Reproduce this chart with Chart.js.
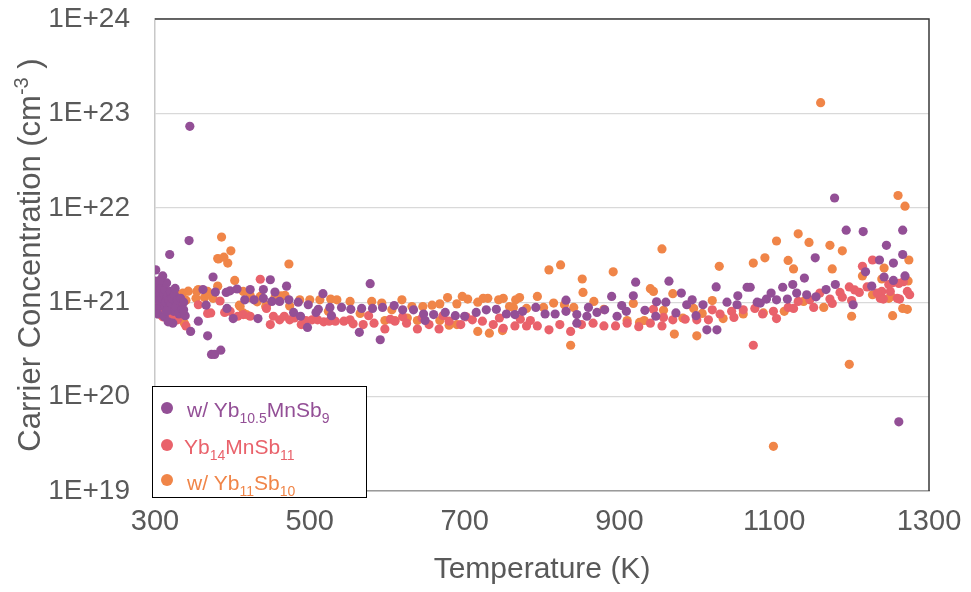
<!DOCTYPE html>
<html>
<head>
<meta charset="utf-8">
<script src="https://cdn.jsdelivr.net/npm/chart.js@4"></script>
<style>
  html, body { margin: 0; padding: 0; background: #fff; }
  #wrap { width: 971px; height: 592px; }
</style>
</head>
<body>
<div id="wrap"><canvas id="chart" width="971" height="592"></canvas></div>
<script>
// [temperature K, carrier concentration cm^-3]
const purplePts = [
  [301,2.2e21],[310,1.9e21],[300,1.67e21],[319,3.2e21],[344,4.5e21],[345,7.3e22],[375,1.85e21],
  [302,1.5e21],[303,1.3e21],[304,1.15e21],[305,1.05e21],[306,0.95e21],[307,1.25e21],[308,1.4e21],[309,1.1e21],
  [311,0.9e21],[312,1.2e21],[313,1.35e21],[314,1.0e21],[315,1.6e21],[316,1.15e21],[317,0.85e21],[318,1.05e21],
  [320,1.3e21],[321,0.95e21],[322,1.1e21],[324,0.8e21],[325,1.2e21],[326,1.4e21],[327,0.9e21],[329,1.05e21],
  [331,0.75e21],[333,1.1e21],[335,0.85e21],[337,1.0e21],[339,0.72e21],[302,0.85e21],[304,0.75e21],[306,1.7e21],
  [312,0.7e21],[315,0.8e21],[323,0.6e21],[317,0.62e21],
  [346,0.49e21],[368,0.44e21],[356,0.63e21],[366,0.93e21],[373,0.28e21],[377,0.28e21],[385,0.31e21],
  [362,1.36e21],[378,1.28e21],[392,1.27e21],[397,1.32e21],[406,1.38e21],[423,1.36e21],[440,1.36e21],[455,1.28e21],
  [470,1.48e21],[517,1.23e21],
  [416,1.06e21],[428,1.06e21],[440,1.1e21],[451,1.02e21],[461,1.02e21],[473,1.06e21],[485,1.0e21],[498,0.94e21],
  [511,0.84e21],[526,0.88e21],
  [393,0.86e21],[401,0.67e21],[433,0.67e21],[479,0.78e21],[488,0.71e21],[497,0.54e21],[528,0.72e21],[508,0.78e21],
  [337,0.83e21],[449,1.73e21],[578,1.57e21],
  [541,0.88e21],[553,0.84e21],[567,0.86e21],[581,0.86e21],[594,0.88e21],[609,0.92e21],[620,0.83e21],[634,0.83e21],
  [647,0.75e21],[660,0.74e21],[675,0.78e21],[688,0.72e21],[700,0.71e21],[715,0.78e21],[728,0.83e21],[741,0.84e21],
  [754,0.75e21],[765,0.74e21],[775,0.8e21],[564,0.48e21],[591,0.4e21],[649,0.64e21],
  [792,0.88e21],[804,0.75e21],[817,0.75e21],[831,1.05e21],[831,0.8e21],[845,0.74e21],[845,0.6e21],[858,0.71e21],
  [860,0.88e21],[871,0.78e21],[881,0.83e21],[890,1.15e21],[897,0.71e21],[903,0.92e21],[909,0.8e21],[918,1.17e21],
  [921,1.63e21],[933,0.82e21],[947,0.71e21],[948,1.01e21],[960,1.0e21],[964,1.67e21],[973,0.77e21],[980,1.25e21],
  [987,0.94e21],[994,1.06e21],[999,0.72e21],[1008,0.94e21],[1013,0.51e21],[1025,1.45e21],[1026,0.51e21],
  [1039,1.0e21],[1053,1.17e21],[1052,0.94e21],[1065,1.44e21],[1069,1.44e21],[1078,1.0e21],[1082,0.98e21],
  [1090,1.08e21],[1096,1.25e21],[1103,1.06e21],[1111,1.44e21],[1117,1.08e21],[1124,1.54e21],[1129,1.25e21],
  [1139,1.8e21],[1142,1.2e21],[1153,2.95e21],[1154,1.14e21],[1167,1.36e21],[1179,1.54e21],[1193,5.8e21],
  [1215,5.6e21],[1202,0.94e21],[1218,2.1e21],[1226,1.48e21],[1236,2.8e21],[1245,4.0e21],[1254,2.6e21],
  [1242,1.85e21],[1254,1.7e21],[1266,5.8e21],[1266,3.2e21],[1269,1.9e21],[1178,1.27e22],[1261,5.4e19]
];

const redPts = [
  [300,0.95e21],[302,0.8e21],[304,1.1e21],[306,0.75e21],[308,0.9e21],[310,0.7e21],[312,0.85e21],[314,1.0e21],
  [316,0.78e21],[318,0.68e21],[320,0.9e21],[323,0.75e21],[326,0.82e21],[329,0.65e21],[332,0.72e21],[334,0.83e21],
  [340,0.56e21],[356,0.94e21],[384,1.03e21],[368,0.76e21],[397,0.8e21],[407,0.71e21],
  [372,0.77e21],[390,0.78e21],[414,0.74e21],[423,0.71e21],
  [436,1.75e21],[444,0.86e21],[449,0.58e21],[453,0.71e21],[461,0.65e21],[467,0.71e21],[474,0.65e21],[480,0.68e21],
  [489,0.58e21],[495,0.64e21],[503,0.65e21],[510,0.65e21],[518,0.62e21],[525,0.63e21],[533,0.63e21],[544,0.63e21],
  [552,0.65e21],[556,0.59e21],[569,0.58e21],[576,0.72e21],[583,0.6e21],[597,0.52e21],[604,0.66e21],[610,0.63e21],
  [620,0.7e21],[625,0.6e21],[639,0.52e21],[645,0.68e21],[654,0.58e21],[667,0.52e21],[672,0.72e21],[680,0.63e21],
  [695,0.58e21],[702,0.7e21],[710,0.65e21],[723,0.63e21],[737,0.58e21],[745,0.68e21],[750,0.53e21],[765,0.56e21],
  [772,0.66e21],[780,0.56e21],
  [785,0.64e21],[794,0.56e21],[809,0.51e21],[823,0.58e21],[837,0.49e21],[851,0.58e21],[866,0.6e21],[880,0.56e21],
  [895,0.56e21],[910,0.6e21],[925,0.55e21],[940,0.6e21],[955,0.56e21],[957,0.69e21],[969,0.65e21],[944,0.84e21],
  [985,0.66e21],[1000,0.65e21],[1015,0.65e21],[1020,0.83e21],
  [1030,0.75e21],[1045,0.8e21],[1048,0.69e21],[1060,0.83e21],[1075,0.86e21],[1085,0.75e21],[1099,0.8e21],
  [1103,0.67e21],[1118,0.88e21],[1125,0.86e21],[1131,1.02e21],[1146,1.06e21],[1151,0.88e21],[1159,1.25e21],
  [1172,1.08e21],[1175,0.97e21],[1185,1.27e21],[1188,1.13e21],[1197,1.45e21],[1200,1.04e21],[1210,1.27e21],
  [1214,2.4e21],[1227,2.8e21],[1239,1.3e21],[1241,1.08e21],[1252,1.6e21],[1250,1.3e21],[1262,1.08e21],
  [1267,1.65e21],[1272,1.3e21],[1275,1.2e21],[1073,0.35e21],
  [1248,1.54e21],[1261,1.58e21],[1237,1.1e21],[1259,1.1e21],[1204,1.35e21],[1220,1.45e21],[1233,1.25e21]
];

const orangePts = [
  [300,1.41e21],[301,1.05e21],[303,1.25e21],[306,1.15e21],[309,1.35e21],[312,1.05e21],[315,1.25e21],[318,1.15e21],
  [321,1.0e21],[324,1.3e21],[327,1.1e21],[330,1.2e21],[333,0.95e21],[336,1.25e21],[340,1.05e21],[305,0.9e21],
  [320,0.85e21],
  [381,2.9e21],[394,2.6e21],[403,1.7e21],[343,1.31e21],[356,1.36e21],[368,1.3e21],[381,1.48e21],[353,1.1e21],
  [364,1.12e21],[375,1.1e21],[409,0.93e21],[338,0.6e21],
  [386,4.9e21],[398,3.5e21],[382,2.87e21],[389,3.0e21],[473,2.54e21],[354,1.3e21],[367,1.27e21],[414,1.3e21],
  [423,1.18e21],[436,1.15e21],[444,0.93e21],[457,1.17e21],[463,1.17e21],[410,0.9e21],[418,0.74e21],[500,1.06e21],
  [513,1.06e21],[527,1.08e21],
  [414,0.77e21],[423,1.12e21],[432,1.01e21],[443,0.9e21],[455,1.12e21],[468,1.18e21],[474,0.91e21],[487,1.06e21],
  [524,0.8e21],[535,1.06e21],[552,1.02e21],[565,0.76e21],[580,1.02e21],[593,0.98e21],[606,0.83e21],[619,1.06e21],
  [632,0.9e21],[646,0.9e21],[658,0.93e21],[668,0.96e21],[678,1.12e21],[690,0.96e21],[704,1.08e21],[717,1.0e21],
  [730,1.1e21],[744,1.06e21],[758,0.9e21],[771,1.12e21],[717,0.49e21],[732,0.47e21],[690,0.58e21],[680,0.57e21],
  [597,0.64e21],[610,0.64e21],[626,0.68e21],[639,0.64e21],[668,0.64e21],[749,0.5e21],[697,1.15e21],[724,1.1e21],
  [750,1.1e21],[763,0.88e21],[766,1.06e21],
  [780,0.86e21],[794,1.15e21],[802,0.88e21],[809,2.2e21],[824,2.48e21],[815,0.98e21],[829,0.94e21],[841,0.88e21],
  [852,1.76e21],[853,1.27e21],[867,1.02e21],[880,0.84e21],[892,2.1e21],[910,0.64e21],[918,0.97e21],[926,0.61e21],
  [932,0.64e21],[940,1.39e21],[944,1.3e21],[955,3.67e21],[957,0.82e21],[969,1.23e21],[971,0.46e21],[982,0.68e21],
  [996,0.86e21],[1000,0.44e21],[1007,0.76e21],[1020,1.04e21],[1029,2.4e21],[837,0.35e21],
  [1034,0.67e21],[1060,0.75e21],[1073,2.6e21],[1086,0.77e21],[1088,2.95e21],[1103,4.45e21],[1113,0.8e21],
  [1118,2.77e21],[1125,2.25e21],[1131,5.3e21],[1138,1.02e21],[1145,4.3e21],[1164,0.88e21],[1172,4.0e21],
  [1175,2.25e21],[1188,3.5e21],[1200,0.71e21],[1214,1.9e21],[1227,1.2e21],[1239,1.76e21],[1242,2.3e21],
  [1251,1.15e21],[1253,0.72e21],[1266,0.86e21],[1272,0.84e21],[1273,1.68e21],[1274,2.8e21],[1197,0.22e21],
  [1160,1.3e23],[1260,1.35e22],[1269,1.04e22],[1099,2.97e19],[1248,1.1e21]
];

const xTicks = [300, 500, 700, 900, 1100, 1300];
const yTicks = [1e19, 1e20, 1e21, 1e22, 1e23, 1e24];

// legend labels split into [text, 'sub' | ''] pieces
const legendLabels = [
  [['w/ Yb', ''], ['10.5', 'sub'], ['MnSb', ''], ['9', 'sub']],
  [['Yb', ''], ['14', 'sub'], ['MnSb', ''], ['11', 'sub']],
  [['w/ Yb', ''], ['11', 'sub'], ['Sb', ''], ['10', 'sub']]
];
const yTitle = [['Carrier Concentration (cm', ''], ['-3', 'sup'], [' )', '']];
const xTitle = 'Temperature (K)';

const colors = ['#934f96', '#e9626b', '#f08548'];
const FONT = '"Liberation Sans", Arial, sans-serif';
const TXT = '#595959';

function toXY(pts) {
  return pts.map(p => ({ x: p[0], y: p[1] }));
}

// draw a run of text pieces with sub/superscripts, starting at x, baseline y
function drawRich(ctx, parts, x, y, size) {
  parts.forEach(([t, kind]) => {
    const s = kind ? Math.round(size * 0.65) : size;
    ctx.font = s + 'px ' + FONT;
    let dy = 0;
    if (kind === 'sub') dy = size * 0.28;
    if (kind === 'sup') dy = -size * 0.38;
    ctx.fillText(t, x, y + dy);
    x += ctx.measureText(t).width;
  });
  return x;
}

function richWidth(ctx, parts, size) {
  let w = 0;
  parts.forEach(([t, kind]) => {
    const s = kind ? Math.round(size * 0.65) : size;
    ctx.font = s + 'px ' + FONT;
    w += ctx.measureText(t).width;
  });
  return w;
}

const decorPlugin = {
  id: 'decor',
  afterDraw(chart) {
    const { ctx, chartArea: a } = chart;
    ctx.save();

    // plot frame: dark top/right
    ctx.strokeStyle = '#3a3a3a';
    ctx.lineWidth = 1.5;
    ctx.beginPath();
    ctx.moveTo(a.left, a.top);
    ctx.lineTo(a.right, a.top);
    ctx.lineTo(a.right, a.bottom);
    ctx.stroke();

    // axis titles
    ctx.fillStyle = TXT;
    ctx.textBaseline = 'alphabetic';
    ctx.font = '30px ' + FONT;
    ctx.textAlign = 'center';
    ctx.fillText(xTitle, (a.left + a.right) / 2, 578);

    ctx.textAlign = 'left';
    const tw = richWidth(ctx, yTitle, 31);
    ctx.translate(40, (a.top + a.bottom) / 2);
    ctx.rotate(-Math.PI / 2);
    drawRich(ctx, yTitle, -tw / 2, 0, 31);
    ctx.setTransform(1, 0, 0, 1, 0, 0);

    // legend box
    const bx = 152, by = 386, bw = 214, bh = 111;
    ctx.fillStyle = '#fff';
    ctx.fillRect(bx, by, bw, bh);
    ctx.strokeStyle = '#000';
    ctx.lineWidth = 1;
    ctx.strokeRect(bx + 0.5, by + 0.5, bw, bh);

    const rows = [{ my: 408, ty: 417, tx: 187 }, { my: 445, ty: 454, tx: 184 }, { my: 480, ty: 490, tx: 187 }];
    rows.forEach((r, i) => {
      ctx.fillStyle = colors[i];
      ctx.beginPath();
      ctx.arc(167, r.my, 6, 0, Math.PI * 2);
      ctx.fill();
      drawRich(ctx, legendLabels[i], r.tx, r.ty, 21);
    });

    ctx.restore();
  }
};

const names = ['w/ Yb10.5MnSb9', 'Yb14MnSb11', 'w/ Yb11Sb10'];
const series = [purplePts, redPts, orangePts];

new Chart(document.getElementById('chart'), {
  type: 'scatter',
  data: {
    datasets: series.map((pts, i) => ({
      label: names[i],
      data: toXY(pts),
      backgroundColor: colors[i],
      borderWidth: 0,
      pointRadius: 4.6,
      pointHoverRadius: 4.6
    }))
  },
  options: {
    responsive: false,
    animation: false,
    layout: { padding: { left: 0, right: 42, top: 19, bottom: 0 } },
    plugins: { legend: { display: false }, tooltip: { enabled: false } },
    scales: {
      x: {
        type: 'linear',
        min: 300,
        max: 1300,
        afterFit: s => { s.height = 101; s.paddingLeft = 0; s.paddingRight = 0; },
        afterBuildTicks: s => { s.ticks = xTicks.map(v => ({ value: v })); },
        grid: { display: false, drawTicks: false },
        border: { display: true, color: '#9a9a9a', width: 1.5 },
        ticks: {
          color: TXT,
          font: { family: FONT, size: 29 },
          padding: 14,
          maxRotation: 0,
          callback: v => String(v)
        }
      },
      y: {
        type: 'logarithmic',
        min: 1e19,
        max: 1e24,
        afterFit: s => { s.width = 155; s.paddingTop = 0; s.paddingBottom = 0; },
        afterBuildTicks: s => { s.ticks = yTicks.map(v => ({ value: v })); },
        grid: { color: '#d9d9d9', lineWidth: 1.2, drawTicks: false },
        border: { display: true, color: '#c8c8c8', width: 1.5 },
        ticks: {
          color: TXT,
          font: { family: FONT, size: 28 },
          padding: 25,
          callback: v => '1E+' + Math.round(Math.log10(v))
        }
      }
    }
  },
  plugins: [decorPlugin]
});
</script>
</body>
</html>
